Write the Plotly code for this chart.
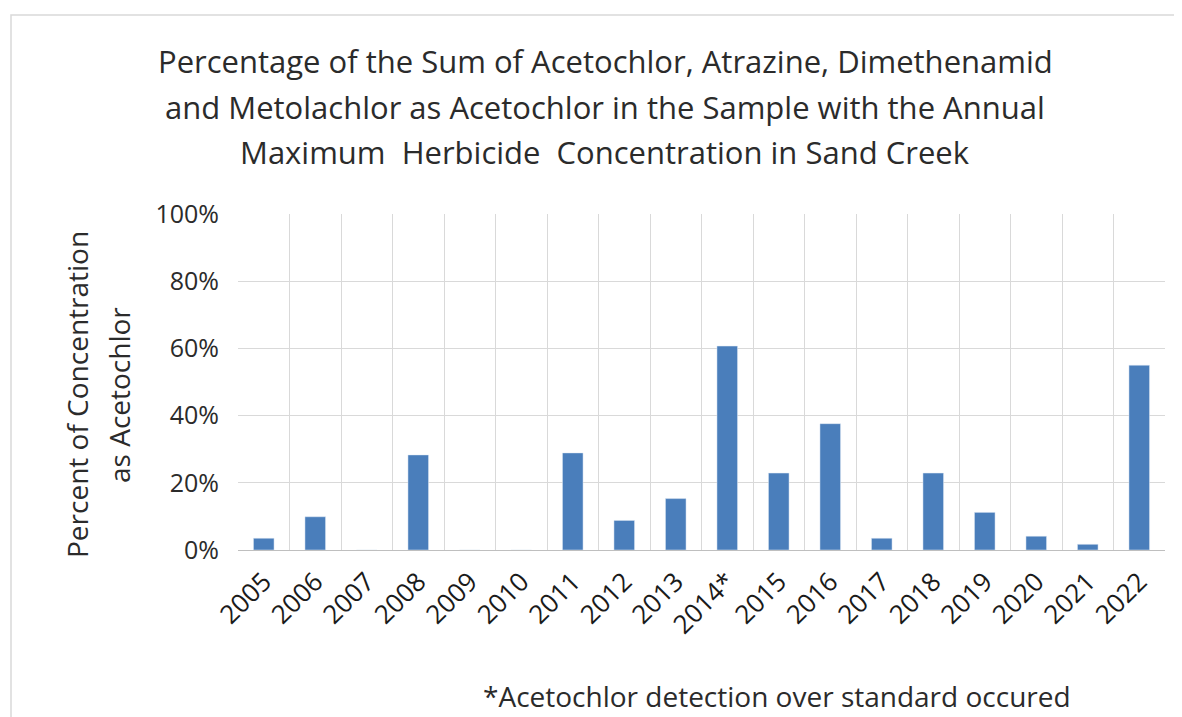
import plotly.graph_objects as go

years = ["2005", "2006", "2007", "2008", "2009", "2010", "2011", "2012", "2013",
         "2014*", "2015", "2016", "2017", "2018", "2019", "2020", "2021", "2022"]
pct_acetochlor = [3.5, 9.9, 0, 28.3, 0, 0, 28.9, 8.8, 15.3,
                  60.7, 22.9, 37.6, 3.5, 22.9, 11.2, 4.1, 1.7, 55.0]
y_ticks = [0, 20, 40, 60, 80, 100]
y_tick_text = ["0%", "20%", "40%", "60%", "80%", "100%"]
title_lines = [
    "Percentage of the Sum of Acetochlor, Atrazine, Dimethenamid",
    "and Metolachlor as Acetochlor in the Sample with the Annual",
    "Maximum  Herbicide  Concentration in Sand Creek",
]
y_title_lines = ["Percent of Concentration", "as Acetochlor"]
footnote = "*Acetochlor detection over standard occured"

W, H = 1182, 717
L, R, T, B = 230, 25, 206, 175
pw, ph = W - L - R, H - T - B

def px_x(x):
    return (x - L) / pw

def px_y(y):
    return (H - B - y) / ph

FONT = "Open Sans"
TXT = "#2b2b2b"

fig = go.Figure()
fig.add_trace(go.Bar(x=years, y=pct_acetochlor, marker_color="#4A7EBB",
                     width=0.4, hoverinfo="x+y"))

annotations = []
for line, yy in zip(title_lines, [53, 99, 144]):
    annotations.append(dict(text=line, x=px_x(597), y=px_y(yy), xref="paper", yref="paper",
                            xanchor="center", yanchor="middle", showarrow=False,
                            font=dict(family=FONT, size=31, color=TXT)))
for line, xx in zip(y_title_lines, [69, 111]):
    annotations.append(dict(text=line, x=px_x(xx), y=px_y(387), xref="paper", yref="paper",
                            xanchor="center", yanchor="middle", showarrow=False, textangle=-90,
                            font=dict(family=FONT, size=28, color=TXT)))
annotations.append(dict(text=footnote, x=px_x(473), y=px_y(688), xref="paper", yref="paper",
                        xanchor="left", yanchor="middle", showarrow=False,
                        font=dict(family=FONT, size=28, color=TXT)))

fig.update_layout(
    width=W, height=H,
    margin=dict(l=L, r=R, t=T, b=B, pad=0),
    paper_bgcolor="white", plot_bgcolor="white",
    showlegend=False,
    annotations=annotations,
    shapes=[dict(type="rect", xref="paper", yref="paper",
                 x0=px_x(3), x1=px_x(1179), y0=px_y(712), y1=px_y(7),
                 line=dict(color="#d9d9d9", width=1.5), fillcolor="rgba(0,0,0,0)", layer="below")],
    xaxis=dict(type="category", range=[-0.5, 17.5], tickangle=-45, tickson="boundaries",
               showgrid=True, gridcolor="#d9d9d9", gridwidth=1,
               showline=True, linecolor="#bfbfbf", linewidth=1, mirror=False,
               ticks="", ticklabelstandoff=5,
               tickfont=dict(family=FONT, size=26, color="#1a1a1a"), fixedrange=True),
    yaxis=dict(range=[0, 100], tickmode="array", tickvals=y_ticks, ticktext=y_tick_text,
               showgrid=True, gridcolor="#d9d9d9", gridwidth=1, zeroline=False,
               ticks="", ticklabelstandoff=18,
               tickfont=dict(family=FONT, size=25, color=TXT), fixedrange=True),
)

fig.write_html("out.html")
